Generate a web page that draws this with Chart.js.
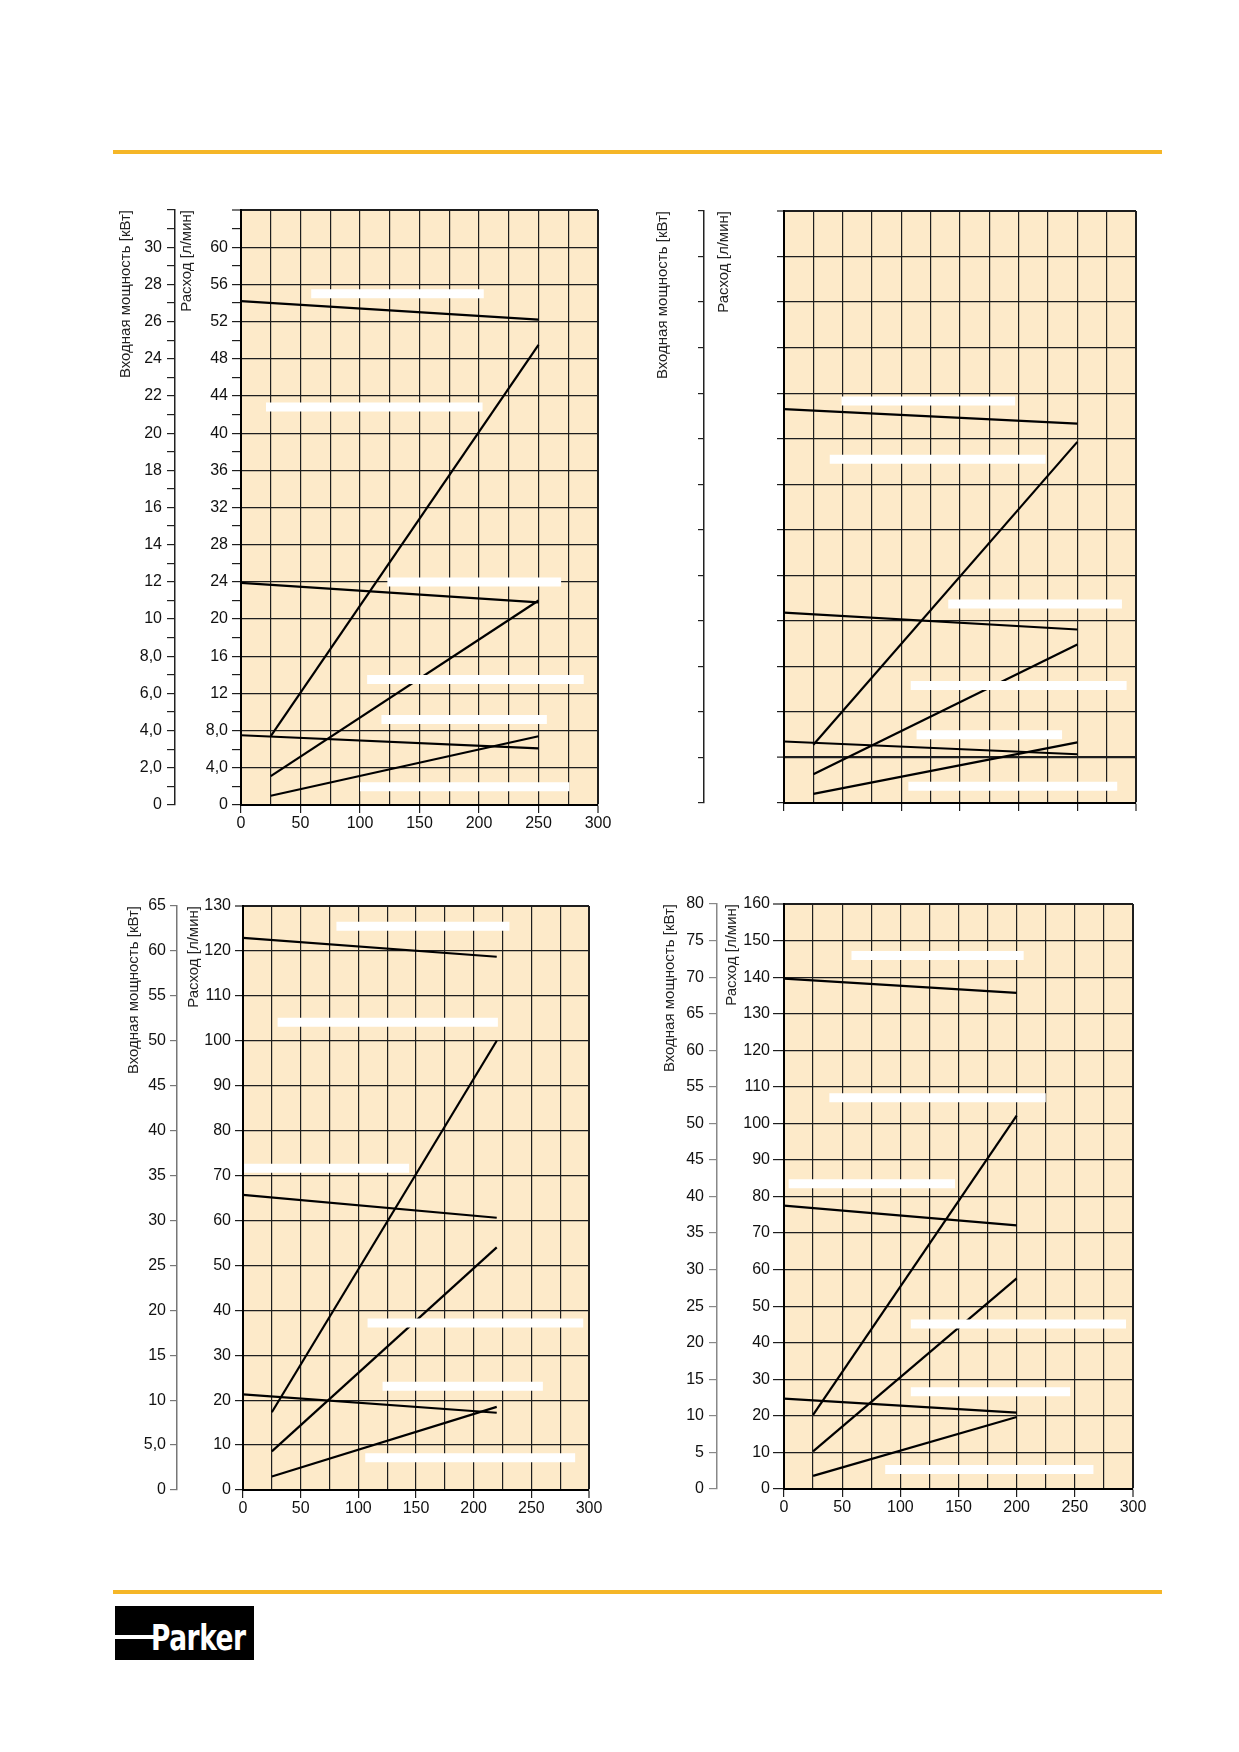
<!DOCTYPE html>
<html lang="ru">
<head>
<meta charset="utf-8">
<title>Характеристики насосов</title>
<script src="https://cdn.jsdelivr.net/npm/chart.js@4.4.1/dist/chart.umd.min.js"></script>
<style>
  html, body { margin: 0; padding: 0; background: #fff; }
  #page { position: relative; width: 1239px; height: 1752px; overflow: hidden; }
  .rule { position: absolute; left: 113px; width: 1049px; height: 4px; background: #f5b627; }
  canvas { position: absolute; }
  #logo { position: absolute; left: 115px; top: 1606px; width: 139px; height: 54px; background: #000; overflow: hidden; }
  #logo .bar { position: absolute; left: 0; top: 29px; width: 40px; height: 4px; background: #fff; }
  #logo .txt { position: absolute; left: 36px; top: 15px; color: #fff; font: bold 35px "DejaVu Sans Condensed", "Liberation Sans Narrow", sans-serif; line-height: 1; transform: scaleX(0.84); transform-origin: left top; letter-spacing: -0.5px; }
</style>
</head>
<body>
<div id="page">
  <div class="rule" style="top:150px"></div>
  <canvas id="c1" width="520" height="680" style="left:100px;top:180px"></canvas>
  <canvas id="c2" width="520" height="680" style="left:640px;top:180px"></canvas>
  <canvas id="c3" width="520" height="680" style="left:100px;top:870px"></canvas>
  <canvas id="c4" width="520" height="680" style="left:640px;top:870px"></canvas>
  <div class="rule" style="top:1590px"></div>
  <div id="logo"><span class="bar"></span><span class="txt">Parker</span></div>
</div>
<script>
// общая ось X
const xMax = 300;
const xLabels = ['0', '50', '100', '150', '200', '250', '300'];

// график 1 (вверху слева)
const c1FlowLabels = ['0', '4,0', '8,0', '12', '16', '20', '24', '28', '32', '36', '40', '44', '48', '52', '56', '60'];
const c1PowerLabels = ['0', '2,0', '4,0', '6,0', '8,0', '10', '12', '14', '16', '18', '20', '22', '24', '26', '28', '30'];
const c1XFlat = [0, 250];
const c1XRise = [25, 250];
const c1Flat1 = [54.2, 52.2];
const c1Rise1 = [7.4, 49.5];
const c1Flat2 = [23.9, 21.8];
const c1Rise2 = [3.1, 22.0];
const c1Flat3 = [7.5, 6.1];
const c1Rise3 = [1.0, 7.4];
const c1BarY = [55.0, 42.8, 24.0, 13.5, 9.2, 1.95];
const c1BarFrom = [59, 21, 123, 106, 118, 100];
const c1BarTo = [204, 203, 269, 288, 257, 276];

// график 2 (вверху справа, без подписей шкал)
const c2XFlat = [0, 250];
const c2XRise = [25, 250];
const c2Flat1 = [8.65, 8.33];
const c2Rise1 = [1.28, 7.93];
const c2Flat2 = [4.18, 3.81];
const c2Rise2 = [0.63, 3.48];
const c2Flat3 = [1.35, 1.07];
const c2Rise3 = [0.2, 1.33];
const c2BarY = [8.83, 7.55, 4.37, 2.58, 1.5, 0.37];
const c2BarFrom = [49, 39, 140, 108, 113, 106];
const c2BarTo = [197, 223, 288, 292, 237, 284];

// график 3 (внизу слева)
const c3FlowLabels = ['0', '10', '20', '30', '40', '50', '60', '70', '80', '90', '100', '110', '120', '130'];
const c3PowerLabels = ['0', '5,0', '10', '15', '20', '25', '30', '35', '40', '45', '50', '55', '60', '65'];
const c3XFlat = [0, 220];
const c3XRise = [25, 220];
const c3Flat1 = [122.9, 118.7];
const c3Rise1 = [17.3, 100.0];
const c3Flat2 = [65.7, 60.6];
const c3Rise2 = [8.6, 54.0];
const c3Flat3 = [21.3, 17.2];
const c3Rise3 = [3.0, 18.5];
const c3BarY = [125.5, 104.1, 71.6, 37.2, 23.1, 7.2];
const c3BarFrom = [81, 30, 1, 108, 121, 106];
const c3BarTo = [231, 221, 144, 295, 260, 288];

// график 4 (внизу справа)
const c4FlowLabels = ['0', '10', '20', '30', '40', '50', '60', '70', '80', '90', '100', '110', '120', '130', '140', '150', '160'];
const c4PowerLabels = ['0', '5', '10', '15', '20', '25', '30', '35', '40', '45', '50', '55', '60', '65', '70', '75', '80'];
const c4XFlat = [0, 200];
const c4XRise = [25, 200];
const c4Flat1 = [139.6, 135.7];
const c4Rise1 = [20.3, 102.1];
const c4Flat2 = [77.5, 72.1];
const c4Rise2 = [10.3, 57.6];
const c4Flat3 = [24.7, 20.9];
const c4Rise3 = [3.6, 19.7];
const c4BarY = [145.9, 107.0, 83.5, 45.1, 26.6, 5.3];
const c4BarFrom = [58, 39, 4, 109, 109, 87];
const c4BarTo = [206, 225, 147, 294, 246, 266];

const GRID = '#1e1e1e';
const NONE = 'rgba(0,0,0,0)';
const FONT = { family: '"Liberation Sans", Arial, sans-serif', size: 16 };
const TITLE_FONT = { family: '"Liberation Sans", Arial, sans-serif', size: 15 };

const near = (v, s) => Math.abs(v / s - Math.round(v / s)) < 1e-6;
const pick = (labels, step) => v => near(v, step) ? (labels[Math.round(v / step)] ?? '') : '';
const blank = () => '';

// заливка поля графика
const plotFill = {
  id: 'plotFill',
  beforeDraw(chart) {
    const { ctx, chartArea: a } = chart;
    ctx.save();
    ctx.fillStyle = '#fdeac9';
    ctx.fillRect(a.left, a.top, a.right - a.left, a.bottom - a.top);
    ctx.restore();
  }
};

function makeChart(id, g) {
  const sets = [];
  // белые полосы (стёртые подписи) поверх линий
  g.barY.forEach((y, i) => sets.push({
    data: [{ x: g.barFrom[i], y }, { x: g.barTo[i], y }],
    borderColor: '#fff', borderWidth: 9, borderCapStyle: 'butt', order: 0
  }));
  g.lines.forEach(([xs, ys]) => sets.push({
    data: xs.map((x, i) => ({ x, y: ys[i] })),
    borderColor: '#000', borderWidth: 2.2, order: 1
  }));
  sets.forEach(d => { d.pointRadius = 0; d.tension = 0; d.fill = false; d.yAxisID = 'flow'; });

  new Chart(document.getElementById(id), {
    type: 'line',
    data: { datasets: sets },
    plugins: [plotFill],
    options: {
      responsive: false,
      animation: false,
      events: [],
      layout: { padding: g.pad, autoPadding: false },
      plugins: { legend: { display: false }, tooltip: { enabled: false } },
      scales: {
        x: {
          type: 'linear', position: 'bottom', min: 0, max: xMax,
          ticks: {
            stepSize: 25, autoSkip: false, maxTicksLimit: 1000, maxRotation: 0, minRotation: 0,
            padding: 1, color: '#111', font: FONT,
            callback: g.showLabels ? pick(xLabels, 50) : blank
          },
          grid: {
            color: GRID,
            lineWidth: c => (c.tick && c.tick.value === xMax) ? 2 : 1.2,
            tickColor: c => (c.tick && near(c.tick.value, 50)) ? GRID : NONE,
            tickLength: 8, tickWidth: 1.2
          },
          border: { color: '#000', width: 2 },
          afterFit: s => { s.height = 40; }
        },
        flow: {
          type: 'linear', position: 'left', weight: 0, min: 0, max: g.flowMax,
          ticks: {
            stepSize: g.flowStep, autoSkip: false, maxTicksLimit: 1000, padding: g.flowPad,
            color: '#111', font: FONT,
            callback: g.showLabels ? pick(g.flowLabels, g.flowLabelStep) : blank
          },
          grid: {
            color: c => (c.tick && near(c.tick.value, g.flowGrid)) ? GRID : NONE,
            lineWidth: c => {
              if (!c.tick) return 1.2;
              if (c.tick.value === g.flowMax) return 2;
              if (c.tick.value === g.boldAt) return 2.2;
              return 1.2;
            },
            tickColor: GRID, tickLength: g.flowTick, tickWidth: 1.2
          },
          border: { color: '#000', width: 2 },
          title: {
            display: true, text: 'Расход [л/мин]', align: 'end', color: '#222', font: TITLE_FONT,
            padding: { top: g.flowTitlePad, bottom: 0 }
          },
          afterFit: s => { s.width = g.flowW; }
        },
        power: {
          type: 'linear', position: 'left', weight: 1, min: 0, max: g.powerMax,
          ticks: {
            stepSize: g.powerStep, autoSkip: false, maxTicksLimit: 1000, padding: g.powerPad,
            color: '#111', font: FONT,
            callback: g.showLabels ? pick(g.powerLabels, g.powerLabelStep) : blank
          },
          grid: {
            drawOnChartArea: false, color: g.axisColor, lineWidth: 1.2,
            tickLength: g.powerTick, tickWidth: 1.2
          },
          border: { color: g.axisColor, width: 1.5 },
          title: {
            display: true, text: 'Входная мощность [кВт]', align: 'end', color: '#222', font: TITLE_FONT,
            padding: { top: 0, bottom: 0 }
          },
          afterFit: s => { s.width = g.powerW; }
        }
      }
    }
  });
}

makeChart('c1', {
  lines: [[c1XFlat, c1Flat1], [c1XRise, c1Rise1], [c1XFlat, c1Flat2], [c1XRise, c1Rise2], [c1XFlat, c1Flat3], [c1XRise, c1Rise3]],
  barY: c1BarY, barFrom: c1BarFrom, barTo: c1BarTo,
  showLabels: true,
  flowMax: 64, flowStep: 2, flowGrid: 4, flowLabelStep: 4, flowLabels: c1FlowLabels,
  powerMax: 32, powerStep: 1, powerLabelStep: 2, powerLabels: c1PowerLabels,
  pad: { left: 17, top: 30, right: 22, bottom: 15 },
  powerW: 58, flowW: 66, flowTitlePad: 2.5,
  powerTick: 8, powerPad: 5, flowTick: 9, flowPad: 4, axisColor: '#222'
});

makeChart('c2', {
  lines: [[c2XFlat, c2Flat1], [c2XRise, c2Rise1], [c2XFlat, c2Flat2], [c2XRise, c2Rise2], [c2XFlat, c2Flat3], [c2XRise, c2Rise3]],
  barY: c2BarY, barFrom: c2BarFrom, barTo: c2BarTo,
  showLabels: false,
  flowMax: 13, flowStep: 1, flowGrid: 1, flowLabelStep: 1, flowLabels: [], boldAt: 1,
  powerMax: 13, powerStep: 1, powerLabelStep: 1, powerLabels: [],
  pad: { left: 14, top: 31, right: 24, bottom: 17 },
  powerW: 50, flowW: 80, flowTitlePad: 11,
  powerTick: 6, powerPad: 5, flowTick: 7, flowPad: 5, axisColor: '#222'
});

makeChart('c3', {
  lines: [[c3XFlat, c3Flat1], [c3XRise, c3Rise1], [c3XFlat, c3Flat2], [c3XRise, c3Rise2], [c3XFlat, c3Flat3], [c3XRise, c3Rise3]],
  barY: c3BarY, barFrom: c3BarFrom, barTo: c3BarTo,
  showLabels: true,
  flowMax: 130, flowStep: 10, flowGrid: 10, flowLabelStep: 10, flowLabels: c3FlowLabels,
  powerMax: 65, powerStep: 5, powerLabelStep: 5, powerLabels: c3PowerLabels,
  pad: { left: 25, top: 36, right: 31, bottom: 20 },
  powerW: 52, flowW: 66, flowTitlePad: 8,
  powerTick: 7, powerPad: 4, flowTick: 8, flowPad: 4, axisColor: '#777'
});

makeChart('c4', {
  lines: [[c4XFlat, c4Flat1], [c4XRise, c4Rise1], [c4XFlat, c4Flat2], [c4XRise, c4Rise2], [c4XFlat, c4Flat3], [c4XRise, c4Rise3]],
  barY: c4BarY, barFrom: c4BarFrom, barTo: c4BarTo,
  showLabels: true,
  flowMax: 160, flowStep: 10, flowGrid: 10, flowLabelStep: 10, flowLabels: c4FlowLabels,
  powerMax: 80, powerStep: 5, powerLabelStep: 5, powerLabels: c4PowerLabels,
  pad: { left: 21, top: 34, right: 27, bottom: 21 },
  powerW: 56, flowW: 67, flowTitlePad: 6,
  powerTick: 8, powerPad: 5, flowTick: 11, flowPad: 3, axisColor: '#888'
});
</script>
</body>
</html>
